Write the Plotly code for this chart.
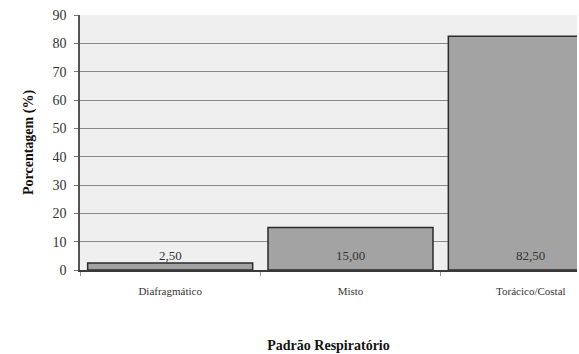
import plotly.graph_objects as go

# Breathing-pattern distribution (percent of subjects)
categories = ["Diafragmático", "Misto", "Torácico/Costal"]
values = [2.50, 15.00, 82.50]
y_ticks = [0, 10, 20, 30, 40, 50, 60, 70, 80, 90]

serif = "'Times New Roman', 'Liberation Serif', 'DejaVu Serif', serif"

fig = go.Figure()
fig.add_trace(go.Bar(
    x=categories,
    y=values,
    width=0.915,
    marker=dict(color="#a3a3a3", line=dict(color="#2b2b2b", width=1.5)),
    hoverinfo="skip",
))

# Value labels, written in Portuguese decimal format just above the baseline
for cat, v in zip(categories, values):
    fig.add_annotation(
        x=cat, y=1.6, text=f"{v:.2f}".replace(".", ","),
        showarrow=False, yanchor="bottom",
        font=dict(family=serif, size=13, color="#333333"),
    )

fig.update_layout(
    width=579, height=354,
    margin=dict(l=80, r=2, t=15, b=84),
    paper_bgcolor="white",
    plot_bgcolor="#efefef",
    showlegend=False,
    font=dict(family=serif, color="#222222"),
    xaxis=dict(
        type="category",
        range=[-0.5, 2.256],
        showline=True, linecolor="#3a3a3a", linewidth=1.5,
        ticks="outside", tickson="boundaries", ticklen=4, tickcolor="#999999",
        tickfont=dict(family=serif, size=11, color="#333333"),
        ticklabelstandoff=10,
        showgrid=False,
        title=dict(text="<b>Padrão Respiratório</b>", font=dict(family=serif, size=14, color="#111111"),
                   standoff=44),
    ),
    yaxis=dict(
        range=[0, 90],
        tickvals=y_ticks,
        showline=True, linecolor="#555555", linewidth=1.5,
        ticks="outside", ticklen=4, tickcolor="#777777",
        tickfont=dict(family=serif, size=14, color="#333333"),
        ticklabelstandoff=5,
        showgrid=True, gridcolor="#8a8a8a", gridwidth=1,
        zeroline=False,
        title=dict(text="<b>Porcentagem (%)</b>", font=dict(family=serif, size=14, color="#111111"),
                   standoff=16),
    ),
)

fig.write_html("out.html")
